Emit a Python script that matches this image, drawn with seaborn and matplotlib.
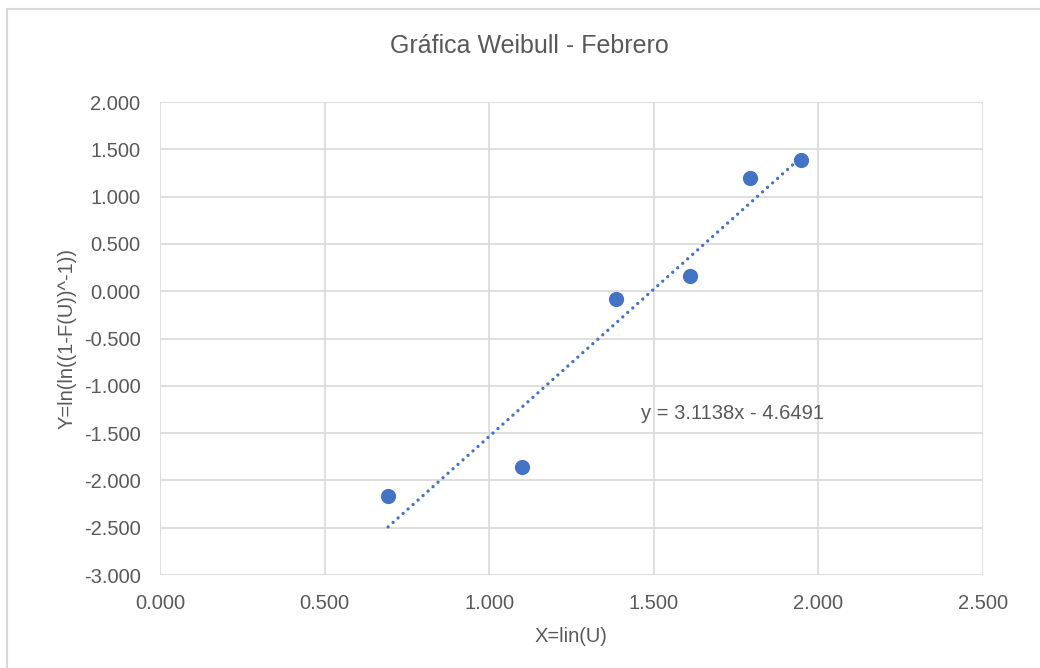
import numpy as np
import pandas as pd
import seaborn as sns
import matplotlib.pyplot as plt
from matplotlib.patches import Rectangle

# Data
x_vals = [0.693, 1.099, 1.386, 1.609, 1.792, 1.946]
y_vals = [-2.165, -1.858, -0.085, 0.161, 1.197, 1.388]
slope = 3.1138
intercept = -4.6491
x_ticks = [0.0, 0.5, 1.0, 1.5, 2.0, 2.5]
y_ticks = [-3.0, -2.5, -2.0, -1.5, -1.0, -0.5, 0.0, 0.5, 1.0, 1.5, 2.0]

title = "Gráfica Weibull - Febrero"
x_label = "X=lin(U)"
y_label = "Y=ln(ln((1-F(U))^-1))"
eq_label = f"y = {slope}x - {abs(intercept)}"

text_color = "#595959"
grid_color = "#d9d9d9"
point_color = "#4472C4"
fs = 14.5

sns.set_theme(style="white")
plt.rcParams['font.family'] = ['Liberation Sans', 'DejaVu Sans']

df = pd.DataFrame({"x": x_vals, "y": y_vals})
trend_x = np.array([min(x_vals), max(x_vals)])
trend = pd.DataFrame({"x": trend_x, "y": slope * trend_x + intercept})

fig = plt.figure(figsize=(10.4, 6.68), dpi=100)
ax = fig.add_axes([0.1538, 0.1392, 0.7914, 0.7081])

# outer chart frame
fig.patches.append(Rectangle((7 / 1040, -0.02), 1.05, 1 - 9 / 668 + 0.02,
                             transform=fig.transFigure, fill=False,
                             edgecolor=grid_color, linewidth=1.5))

sns.lineplot(data=trend, x="x", y="y", ax=ax, color=point_color,
             linestyle=(0, (0.01, 2.0)), linewidth=2.4, dash_capstyle="round")
sns.scatterplot(data=df, x="x", y="y", ax=ax, color=point_color,
                s=120, edgecolor=point_color, linewidth=0, zorder=3)

ax.set_xlim(0, 2.5)
ax.set_ylim(-3, 2)
ax.set_xticks(x_ticks)
ax.set_yticks(y_ticks)
ax.set_xticklabels([f"{v:.3f}" for v in x_ticks])
ax.set_yticklabels([f"{v:.3f}" for v in y_ticks])
ax.tick_params(axis="both", length=0, labelsize=fs, labelcolor=text_color)
ax.tick_params(axis="y", pad=14)
ax.tick_params(axis="x", pad=14)
ax.grid(True, color=grid_color, linewidth=1.2)
ax.set_axisbelow(True)
for side in ["top", "right", "bottom", "left"]:
    ax.spines[side].set_visible(False)

ax.set_xlabel(x_label, fontsize=fs, color=text_color, labelpad=10)
ax.set_ylabel(y_label, fontsize=fs, color=text_color, labelpad=5)
fig.text(0.509, 1 - 46 / 668, title, ha="center", va="center",
         fontsize=18, color=text_color)
ax.text(1.461, -1.29, eq_label, ha="left", va="center",
        fontsize=fs, color=text_color)

fig.savefig("out.png", dpi=100)
